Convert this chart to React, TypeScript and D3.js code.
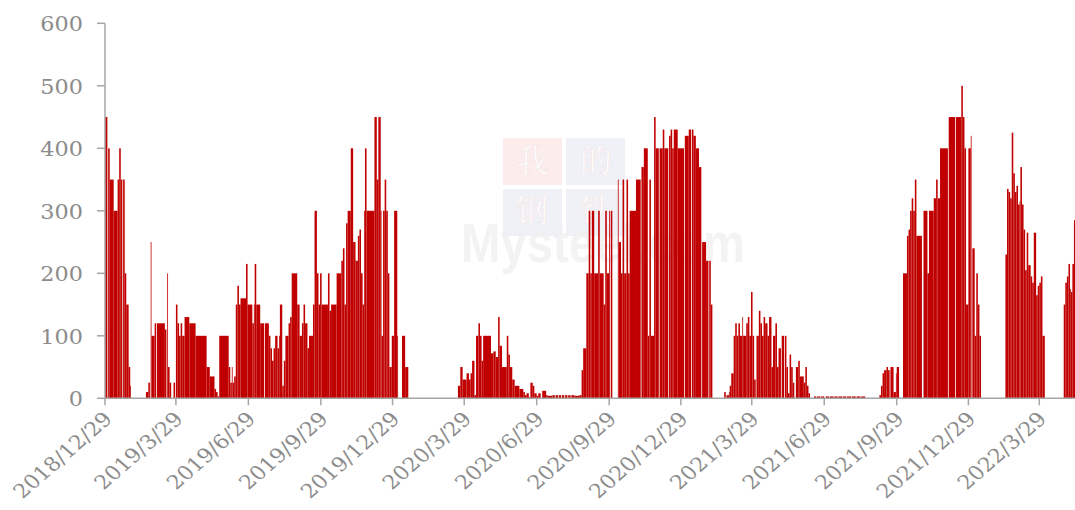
import React from 'react';
import * as d3 from 'd3';

// ---- data ----
const startDate = '2018/12/29';
const tickDates = [
  '2018/12/29', '2019/3/29', '2019/6/29', '2019/9/29', '2019/12/29',
  '2020/3/29', '2020/6/29', '2020/9/29', '2020/12/29', '2021/3/29',
  '2021/6/29', '2021/9/29', '2021/12/29', '2022/3/29',
];
const yTicks = [0, 100, 200, 300, 400, 500, 600];

// Daily series as runs: each run ends at day offset segEnd[i] (from startDate) with value segValue[i]
const segEnd = [
  3, 4, 6, 11, 16, 18, 20, 22, 23, 25, 27, 30, 32, 33, 52, 55, 57, 58, 59, 63,
  65, 66, 76, 78, 79, 80, 82, 84, 87, 89, 90, 92, 94, 96, 98, 101, 107, 115, 129, 133,
  139, 141, 143, 145, 157, 159, 161, 162, 164, 166, 168, 170, 172, 179, 181, 187, 189, 190, 192, 197,
  202, 203, 208, 210, 212, 214, 216, 219, 221, 222, 225, 227, 229, 233, 235, 237, 244, 247, 250, 252,
  254, 257, 259, 264, 266, 269, 271, 273, 275, 283, 285, 287, 294, 300, 302, 304, 306, 308, 312, 315,
  318, 321, 323, 325, 327, 329, 330, 332, 342, 345, 347, 350, 351, 353, 355, 357, 359, 361, 364, 367,
  371, 372, 377, 381, 385, 448, 451, 454, 459, 462, 464, 466, 469, 471, 474, 476, 478, 480, 490, 493,
  496, 499, 501, 504, 510, 512, 514, 517, 520, 526, 531, 533, 535, 538, 540, 543, 545, 548, 550, 553,
  555, 560, 562, 568, 571, 572, 575, 576, 579, 580, 583, 584, 587, 588, 591, 592, 596, 602, 605, 607,
  611, 614, 616, 618, 621, 626, 628, 633, 635, 637, 640, 641, 642, 644, 651, 652, 655, 657, 659, 662,
  664, 666, 674, 680, 681, 684, 689, 691, 693, 697, 699, 703, 704, 708, 710, 715, 716, 718, 720, 722,
  727, 735, 736, 741, 744, 745, 747, 750, 754, 757, 758, 763, 766, 767, 769, 771, 786, 788, 789, 792,
  793, 795, 798, 800, 802, 804, 806, 809, 810, 814, 816, 818, 820, 822, 824, 826, 827, 830, 832, 834,
  836, 838, 841, 843, 846, 848, 851, 853, 855, 858, 859, 862, 863, 865, 867, 869, 871, 873, 875, 877,
  880, 882, 887, 889, 891, 893, 895, 900, 903, 904, 908, 909, 913, 915, 919, 920, 925, 926, 930, 931,
  936, 937, 941, 942, 947, 948, 953, 954, 959, 960, 965, 983, 985, 987, 989, 992, 994, 996, 997, 1001,
  1004, 1005, 1008, 1013, 1018, 1020, 1022, 1024, 1026, 1028, 1030, 1037, 1039, 1044, 1046, 1052, 1055, 1057, 1060, 1070,
  1071, 1079, 1080, 1087, 1089, 1091, 1093, 1096, 1099, 1100, 1101, 1104, 1106, 1108, 1110, 1112, 1143, 1145, 1147, 1149,
  1151, 1153, 1155, 1157, 1159, 1161, 1162, 1164, 1166, 1168, 1170, 1172, 1175, 1177, 1179, 1182, 1184, 1186, 1188, 1190,
  1193, 1217, 1219, 1221, 1223, 1225, 1226, 1228, 1230, 1232,
];
const segValue = [
  450, 0, 400, 350, 300, 350, 400, 350, 0, 350, 200, 150, 50, 20, 0, 10, 25, 0, 250, 100,
  120, 0, 120, 110, 0, 200, 50, 25, 0, 25, 0, 150, 120, 100, 120, 100, 130, 120, 100, 50,
  35, 15, 10, 3, 100, 50, 25, 50, 25, 35, 150, 180, 150, 160, 215, 150, 120, 150, 215, 150,
  120, 0, 120, 100, 80, 60, 80, 100, 80, 100, 150, 20, 60, 100, 120, 130, 200, 150, 100, 120,
  150, 120, 80, 100, 150, 300, 200, 150, 200, 150, 200, 140, 150, 200, 220, 240, 150, 280, 300, 400,
  250, 220, 260, 270, 200, 150, 300, 400, 300, 450, 350, 450, 300, 100, 300, 350, 300, 200, 50, 100,
  300, 100, 0, 100, 50, 0, 20, 50, 30, 40, 30, 40, 60, 5, 100, 120, 100, 60, 100, 72,
  75, 66, 130, 84, 50, 100, 70, 50, 30, 20, 15, 10, 5, 8, 2, 25, 20, 8, 4, 8,
  0, 12, 5, 4, 5, 0, 5, 0, 5, 0, 5, 0, 5, 0, 5, 0, 5, 4, 5, 45,
  80, 200, 300, 200, 300, 200, 300, 200, 150, 300, 200, 300, 0, 300, 0, 350, 250, 200, 350, 200,
  350, 200, 300, 350, 0, 370, 400, 100, 350, 100, 450, 400, 0, 400, 430, 400, 0, 420, 430, 400,
  430, 400, 0, 420, 430, 0, 430, 420, 400, 370, 0, 250, 220, 0, 220, 150, 0, 10, 0, 5,
  10, 20, 40, 100, 120, 100, 120, 100, 130, 100, 120, 130, 100, 170, 100, 30, 0, 100, 140, 120,
  100, 130, 120, 100, 130, 50, 100, 120, 50, 80, 0, 100, 0, 100, 50, 8, 70, 50, 25, 0,
  50, 60, 35, 25, 50, 20, 8, 0, 3, 0, 3, 0, 3, 0, 3, 0, 3, 0, 3, 0,
  3, 0, 3, 0, 3, 0, 3, 0, 3, 0, 3, 0, 5, 20, 40, 45, 50, 45, 0, 50,
  10, 40, 50, 0, 200, 260, 270, 300, 320, 300, 350, 260, 0, 300, 200, 300, 320, 350, 320, 400,
  0, 450, 0, 450, 500, 450, 400, 150, 400, 420, 0, 240, 100, 200, 150, 100, 0, 230, 335, 330,
  320, 425, 360, 330, 340, 310, 315, 370, 310, 270, 205, 265, 213, 195, 185, 265, 165, 180, 185, 195,
  100, 0, 150, 185, 195, 215, 175, 170, 215, 285,
];

const W = 1075;
const H = 510;
const STRETCH = 1.146;
const labelColor = '#8c8c8c';
const axisColor = '#a6a6a6';
const barColor = '#c00000';

export default function App() {
  const parse = d3.utcParse('%Y/%m/%d');
  const t0 = parse(startDate) as Date;
  const x = d3
    .scaleUtc()
    .domain([parse(tickDates[0]) as Date, parse(tickDates[tickDates.length - 1]) as Date])
    .range([105, 1039.3]);
  const y = d3.scaleLinear().domain([0, 600]).range([398.3, 23.3]);

  // one bar per run of equal daily values
  const bars = segEnd.map((e, i) => ({
    from: d3.utcDay.offset(t0, i === 0 ? 0 : segEnd[i - 1]),
    to: d3.utcDay.offset(t0, e),
    v: segValue[i],
  }));

  const y0 = y(0);
  const font = '"DejaVu Serif", serif';
  const fs = 19.5;

  return (
    <svg width={W} height={H} style={{ position: 'absolute', left: 0, top: 0, background: '#fff' }}>
      <defs>
        <clipPath id="plotclip">
          <rect x={105} y={0} width={W - 105} height={y0} />
        </clipPath>
      </defs>
      {/* watermark */}
      <g>
        <rect x={503} y={138} width={59} height={47} fill="#fcecec" />
        <rect x={566} y={138} width={59} height={47} fill="#f0f1f7" />
        <rect x={503} y={189} width={59} height={47} fill="#f0f1f7" />
        <rect x={566} y={189} width={59} height={47} fill="#f0f1f7" />
        <g fontFamily='"Noto Serif CJK SC", "Noto Sans CJK SC", serif' fontSize={32} fill="#ffffff" textAnchor="middle"
          stroke="#f3e4e4" strokeWidth={0.5}>
          <text x={532} y={172}>我</text>
          <text x={596} y={172}>的</text>
          <text x={532} y={222}>钢</text>
          <text x={596} y={222}>铁</text>
        </g>
        <text x={461} y={262} fontFamily="Arial, 'Liberation Sans', sans-serif" fontWeight="bold" fontSize={56}
          fill="#f0f0f0" fillOpacity={0.8} textLength={284} lengthAdjust="spacingAndGlyphs">Mysteel.com</text>
      </g>

      {/* bars */}
      <g clipPath="url(#plotclip)">
        {bars.filter((b) => b.v > 0).map((b, i) => {
          const x1 = x(b.from);
          const x2 = x(b.to);
          return <rect key={i} x={x1} width={x2 - x1} y={y(b.v)} height={y0 - y(b.v)} fill={barColor} />;
        })}
      </g>

      {/* y axis */}
      <line x1={105} x2={105} y1={y(600)} y2={y0} stroke={axisColor} strokeWidth={1.5} />
      {yTicks.map((t) => (
        <g key={t}>
          <line x1={97} x2={105} y1={y(t)} y2={y(t)} stroke={axisColor} strokeWidth={1.5} />
          <text transform={`translate(83,${y(t) + 1}) scale(${STRETCH},1)`} dy="0.36em" textAnchor="end"
            fontFamily={font} fontSize={fs} fill={labelColor}>{t}</text>
        </g>
      ))}

      {/* x axis */}
      <line x1={105} x2={W} y1={y0} y2={y0} stroke={axisColor} strokeWidth={1.5} />
      {tickDates.map((td) => {
        const px = x(parse(td) as Date);
        return (
          <g key={td}>
            <line x1={px} x2={px} y1={y0} y2={y0 + 7} stroke={axisColor} strokeWidth={1.5} />
            <text transform={`translate(${px + 3},${y0 + 17}) scale(${STRETCH},1) rotate(-45)`} textAnchor="end"
              dy="0.35em" fontFamily={font} fontSize={fs} fill={labelColor}>{td}</text>
          </g>
        );
      })}
    </svg>
  );
}
